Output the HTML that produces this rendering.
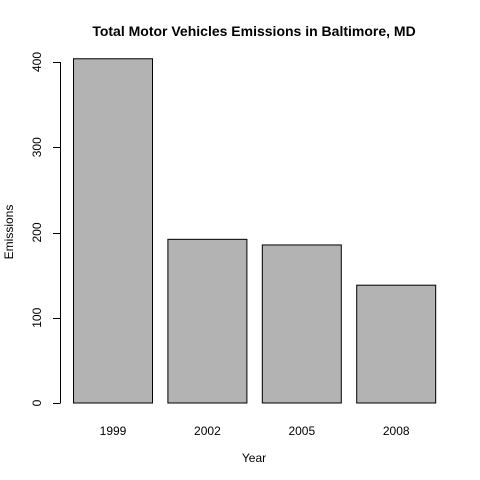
<!DOCTYPE html>
<html><head><meta charset="utf-8"><style>
body{margin:0;background:#fff}
svg{display:block;font-family:"Liberation Sans",Arial,sans-serif}
</style></head><body>
<svg id="chart" width="480" height="480">
<text x="254" y="36" text-anchor="middle" font-size="14" font-weight="bold">Total Motor Vehicles Emissions in Baltimore, MD</text>
<text x="254" y="462" text-anchor="middle" font-size="12">Year</text>
<text transform="translate(13,232) rotate(-90)" text-anchor="middle" font-size="12">Emissions</text>
<g id="bars"></g>
<g id="yaxis"></g>
</svg>
<script>
const years = ["1999","2002","2005","2008"];
const emissions = [403.8, 192.0, 185.4, 138.2];
const yTicks = [0,100,200,300,400];
const NS="http://www.w3.org/2000/svg";
const y = v => 403 - v*0.8525;
const x = i => 73 + i*94.4;
const bw = 79;
const bars=document.getElementById('bars');
years.forEach((yr,i)=>{
  const r=document.createElementNS(NS,'rect');
  r.setAttribute('x',x(i)+0.5);r.setAttribute('y',y(emissions[i]));
  r.setAttribute('width',bw);r.setAttribute('height',403-y(emissions[i]));
  r.setAttribute('fill','#b3b3b3');r.setAttribute('stroke','#000');r.setAttribute('stroke-width','1');
  
  
  bars.appendChild(r);
  const t=document.createElementNS(NS,'text');
  t.setAttribute('x',x(i)+bw/2+0.5);t.setAttribute('y',435);
  t.setAttribute('text-anchor','middle');t.setAttribute('font-size','12');
  t.textContent=yr;
  
  
  bars.appendChild(t);
});
const ya=document.getElementById('yaxis');
const ax=document.createElementNS(NS,'line');
ax.setAttribute('x1',60.5);ax.setAttribute('x2',60.5);
ax.setAttribute('y1',y(yTicks[yTicks.length-1]));ax.setAttribute('y2',y(yTicks[0]));
ax.setAttribute('stroke','#000');


ya.appendChild(ax);
yTicks.forEach(v=>{
  const l=document.createElementNS(NS,'line');
  l.setAttribute('x1',53);l.setAttribute('x2',60.5);
  l.setAttribute('y1',Math.round(y(v))+0.5);l.setAttribute('y2',Math.round(y(v))+0.5);
  l.setAttribute('stroke','#000');
  
  
  ya.appendChild(l);
  const t=document.createElementNS(NS,'text');
  t.setAttribute('transform',`translate(41,${y(v)}) rotate(-90)`);
  t.setAttribute('text-anchor','middle');t.setAttribute('font-size','12');
  t.textContent=v;
  
  
  ya.appendChild(t);
});
</script>
</body></html>
